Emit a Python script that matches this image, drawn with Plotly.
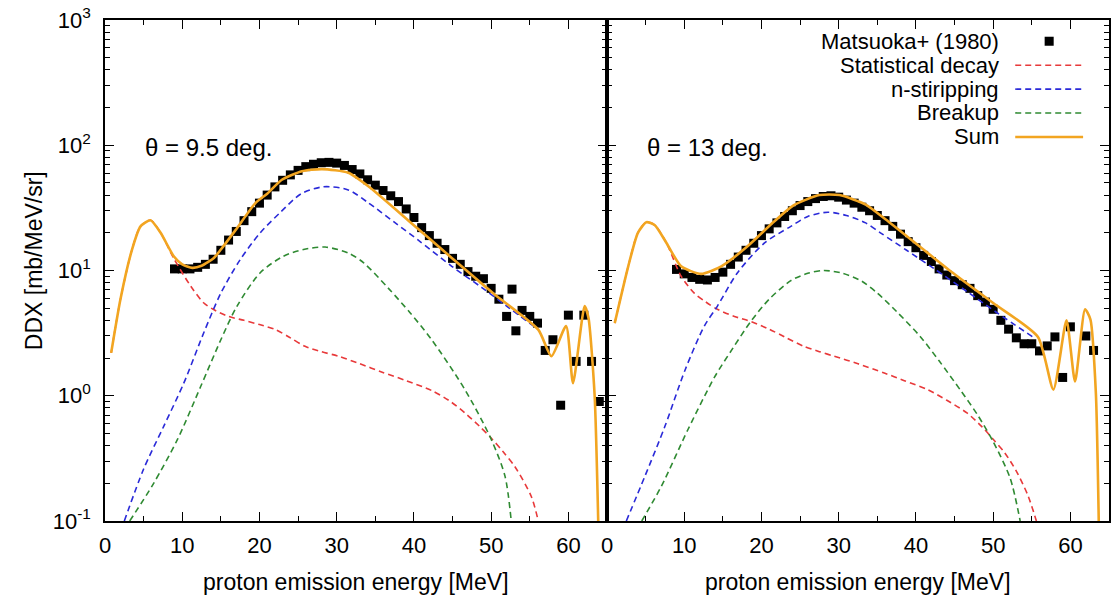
import plotly.graph_objects as go

# ---------------- theta = 9.5 deg ----------------
exp_e_95 = [9, 10, 11, 12, 13, 14, 15, 16, 17, 18, 19, 20, 21, 22, 23, 24, 25, 26, 27, 28,
            29, 30, 31, 32, 33, 34, 35, 36, 37, 38, 39, 40, 41, 42, 43, 44, 45, 46, 47, 48,
            49, 50, 51, 52, 52.7, 53.2, 54, 55, 56, 57, 58, 59, 60, 61, 62, 63, 64]
exp_v_95 = [10.3, 10.3, 10.3, 10.6, 11.2, 12.3, 14.5, 17.5, 20.5, 25, 29.5, 34.5, 40, 46.5, 52.5, 58, 63, 67.5, 70.5, 72.5,
            73, 72, 69, 64, 59, 53, 48, 43.5, 39.5, 35.5, 31, 26.5, 22, 19, 16.5, 14.7, 12.5, 11.2, 9.8, 9.0,
            8.6, 7.2, 5.9, 4.3, 7.1, 3.3, 4.8, 4.3, 3.8, 2.3, 2.8, 0.84, 4.4, 1.88, 4.4, 1.88, 0.9]

sum_e_95 = [0.8, 2, 3.5, 4.6, 5.9, 7.2, 8.9, 10, 11.3, 12.5, 14.1, 15, 16.9, 19.5, 21, 22.9, 25.5,
            28.1, 31.5, 34.1, 39.3, 44.9, 50.5, 56.1, 57.8, 59.7, 60.6, 62.1, 62.6, 63.4, 63.9]
sum_v_95 = [2.2, 5.9, 14.7, 22.5, 25.2, 20, 13, 11.2, 10.5, 10.9, 12.6, 14.7, 21, 34.7, 41, 53, 62,
            64.5, 60.3, 47, 25, 12.6, 6.4, 3.37, 2.07, 3.6, 1.26, 5.2, 4.2, 1.0, 0.08]

stat_e_95 = [0.8, 2, 3.5, 4.6, 5.9, 7.2, 8.9, 11.1, 12.8, 14, 16, 18, 20, 22.1, 24, 25.9, 28, 30.2,
             33, 35.8, 39, 42.3, 44.5, 46.6, 48.5, 50, 51.5, 53.1, 55.2, 56.1]
stat_v_95 = [2.2, 5.9, 14.7, 22.5, 25.2, 20, 12.5, 7.5, 5.5, 4.9, 4.3, 4.0, 3.7, 3.37, 2.9, 2.48, 2.25, 2.07,
             1.8, 1.55, 1.32, 1.1, 0.92, 0.73, 0.57, 0.46, 0.36, 0.27, 0.157, 0.1]

nstr_e_95 = [2.5, 5.0, 7.6, 10.2, 12.8, 15, 17.5, 20.1, 22.8, 25.4, 28.3, 31.5, 34.1, 37.5, 40.6, 44.9, 48.8, 52, 56.1]
nstr_v_95 = [0.1, 0.26, 0.57, 1.26, 3.2, 6.6, 12.2, 20, 29.5, 41, 46.6, 44, 34.7, 24.2, 17.4, 10.8, 7.3, 5.2, 3.37]

brk_e_95 = [3.2, 6.3, 9.4, 12.4, 15, 17.1, 20.1, 23.1, 25.7, 28.5, 31.5, 33.5, 36.7, 39.5, 42.3, 46.6, 50, 51.8, 52.6]
brk_v_95 = [0.1, 0.2, 0.45, 1.19, 2.8, 5.2, 9.6, 13, 14.7, 15.4, 13.8, 11.5, 7.2, 4.6, 2.8, 1.12, 0.45, 0.227, 0.1]

# ---------------- theta = 13 deg ----------------
exp_e_13 = [9, 10, 11, 12, 13, 14, 15, 16, 17, 18, 19, 20, 21, 22, 23, 24, 25, 26, 27, 28,
            29, 30, 31, 32, 33, 34, 35, 36, 37, 38, 39, 40, 41, 42, 43, 44, 45, 46, 47, 48,
            49, 50, 51, 52, 53, 54, 55, 56, 57, 58, 59, 60, 62, 63]
exp_v_13 = [10.2, 9.4, 8.8, 8.5, 8.4, 8.8, 9.7, 11.2, 12.8, 14.5, 16.5, 19, 21.5, 24, 27, 30, 33, 35.5, 37.5, 39,
            39.5, 38.5, 36.5, 34.5, 32, 30, 27.5, 25, 22.5, 19.5, 17, 15.2, 13.2, 11.8, 10.3, 9.2, 8.3, 7.7, 7.2, 6.3,
            5.6, 4.9, 4.0, 3.4, 2.9, 2.6, 2.6, 2.28, 2.5, 2.95, 1.4, 3.55, 3.0, 2.3]

sum_e_13 = [1.0, 2.75, 4.0, 5.1, 6.2, 7.7, 9.6, 12.2, 14.8, 18.2, 21.6, 24.1, 27.5, 30.1, 33.5, 36.1,
            44.2, 50, 55.8, 57.8, 59.5, 60.6, 61.9, 62.6, 63.3, 63.7]
sum_v_13 = [3.8, 10.8, 20, 24.3, 23, 16.6, 10.8, 9.4, 10.8, 15.6, 24.5, 33, 40, 40, 33.6, 25.5,
            10.2, 5.5, 2.95, 1.12, 4.0, 1.3, 4.9, 4.06, 1.05, 0.08]

stat_e_13 = [1.0, 2.75, 4.0, 5.1, 6.2, 7.7, 9.6, 11.3, 12.8, 14.3, 16.5, 18.7, 21, 23, 25.5, 27.5, 29.4,
             32.5, 35.9, 38.5, 41.5, 44, 46.6, 48.5, 50, 51.5, 53, 54.5, 55.6]
stat_v_13 = [3.8, 10.8, 20, 24.3, 23, 16.6, 9.0, 6.6, 5.6, 4.9, 4.3, 3.9, 3.4, 2.95, 2.48, 2.25, 2.07,
             1.8, 1.52, 1.32, 1.12, 0.92, 0.73, 0.57, 0.45, 0.35, 0.25, 0.16, 0.1]

nstr_e_13 = [2.5, 4.9, 7.5, 10.1, 12.6, 14.3, 16.9, 20.4, 23.8, 26, 28.6, 31, 33.5, 35.4, 38.8, 42.3, 46.6, 50.5, 55.3]
nstr_v_13 = [0.1, 0.227, 0.57, 1.6, 3.6, 5.2, 9.6, 16.6, 22.5, 27, 29.2, 27.5, 24, 20, 14.5, 10.4, 6.8, 4.6, 2.9]

brk_e_13 = [4.5, 7.05, 10.5, 13.9, 16.3, 18.6, 21, 23.8, 26, 28.1, 30.5, 33, 35, 37.5, 40.6, 43, 45.8, 48, 50, 52.2, 53.5]
brk_v_13 = [0.1, 0.19, 0.54, 1.4, 2.4, 3.9, 5.9, 8.3, 9.5, 10, 9.5, 8.2, 6.6, 4.7, 2.95, 1.9, 1.1, 0.7, 0.43, 0.22, 0.1]

angle_labels = ["\u03b8 = 9.5 deg.", "\u03b8 = 13 deg."]
legend_labels = ["Matsuoka+ (1980)", "Statistical decay", "n-stiripping", "Breakup", "Sum"]
y_tickvals = [0.1, 1, 10, 100, 1000]
y_ticktext = ["10<sup>-1</sup>", "10<sup>0</sup>", "10<sup>1</sup>", "10<sup>2</sup>", "10<sup>3</sup>"]
x_tickvals = [0, 10, 20, 30, 40, 50, 60]

RED = "#e8393a"
BLUE = "#2a2ad8"
GREEN = "#2f8a32"
ORANGE = "#f2a521"
FONT = "Liberation Sans, Arial, sans-serif"
DASH = "6px,4px"

panels = [
    (exp_e_95, exp_v_95, sum_e_95, sum_v_95, stat_e_95, stat_v_95, nstr_e_95, nstr_v_95, brk_e_95, brk_v_95),
    (exp_e_13, exp_v_13, sum_e_13, sum_v_13, stat_e_13, stat_v_13, nstr_e_13, nstr_v_13, brk_e_13, brk_v_13),
]

fig = go.Figure()
for i, (ee, ev, se, sv, te, tv, ne, nv, be, bv) in enumerate(panels):
    xa = "x" if i == 0 else "x2"
    ya = "y" if i == 0 else "y2"
    fig.add_trace(go.Scatter(x=ee, y=ev, mode="markers", xaxis=xa, yaxis=ya, showlegend=False,
                             marker=dict(symbol="square", size=9, color="black")))
    for xs, ys, col in [(te, tv, RED), (ne, nv, BLUE), (be, bv, GREEN)]:
        fig.add_trace(go.Scatter(x=xs, y=ys, mode="lines", xaxis=xa, yaxis=ya, showlegend=False,
                                 line=dict(color=col, width=1.6, dash=DASH, shape="spline", smoothing=0.8)))
    fig.add_trace(go.Scatter(x=se, y=sv, mode="lines", xaxis=xa, yaxis=ya, showlegend=False,
                             line=dict(color=ORANGE, width=2.6, shape="spline", smoothing=0.6)))

axis_common = dict(showline=True, linecolor="black", linewidth=1.5, mirror="allticks",
                   ticks="inside", ticklen=9, tickwidth=1.2, tickcolor="black",
                   showgrid=False, zeroline=False,
                   tickfont=dict(family=FONT, size=22, color="black"))
xminor = dict(dtick=5, ticklen=5, tickwidth=1.2, tickcolor="black", ticks="inside", showgrid=False)
yminor = dict(dtick="D1", ticklen=5, tickwidth=1.2, tickcolor="black", ticks="inside", showgrid=False)

fig.update_layout(
    width=1113, height=604,
    margin=dict(l=105, r=2, t=20, b=83),
    paper_bgcolor="white", plot_bgcolor="white",
    xaxis=dict(domain=[0, 0.5], range=[0, 65], tickvals=x_tickvals, minor=xminor, anchor="y",
               ticklabelstandoff=4, **axis_common),
    xaxis2=dict(domain=[0.5, 1], range=[0, 65], tickvals=x_tickvals, minor=xminor, anchor="y2",
                ticklabelstandoff=4, **axis_common),
    yaxis=dict(type="log", range=[-1, 3], tickvals=y_tickvals, ticktext=y_ticktext, minor=yminor,
               anchor="x", ticklabelstandoff=8, **axis_common),
    yaxis2=dict(type="log", range=[-1, 3], tickvals=y_tickvals, showticklabels=False, minor=yminor,
                anchor="x2", **axis_common),
    showlegend=False,
)

annotations = []
# axis titles
for cx in (0.25, 0.75):
    annotations.append(dict(xref="paper", yref="paper", x=cx, y=-0.122, text="proton emission energy [MeV]",
                            showarrow=False, xanchor="center", yanchor="middle",
                            font=dict(family=FONT, size=23, color="black")))
annotations.append(dict(xref="paper", yref="paper", x=-0.07, y=0.52, text="DDX [mb/MeV/sr]",
                        textangle=-90, showarrow=False, xanchor="center", yanchor="middle",
                        font=dict(family=FONT, size=23, color="black")))
# angle labels
for px, txt in zip((0.038, 0.538), angle_labels):
    annotations.append(dict(xref="paper", yref="paper", x=px, y=0.745, text=txt, showarrow=False,
                            xanchor="left", yanchor="middle", font=dict(family=FONT, size=24, color="black")))

# legend (text right-aligned, sample to the right); rows are 24 px apart
leg_rows = [0.9576, 0.9097, 0.8620, 0.8145, 0.7666]
leg_x_text = 0.8917
leg_x0, leg_x1 = 0.9066, 0.9742
shapes = []
for row, lab in zip(leg_rows, legend_labels):
    annotations.append(dict(xref="paper", yref="paper", x=leg_x_text, y=row, text=lab, showarrow=False,
                            xanchor="right", yanchor="middle", borderpad=0,
                            font=dict(family=FONT, size=22, color="black")))
mid = (leg_x0 + leg_x1) / 2
shapes.append(dict(type="rect", xref="paper", yref="paper", x0=mid - 0.0045, x1=mid + 0.0045,
                   y0=leg_rows[0] - 0.009, y1=leg_rows[0] + 0.009, fillcolor="black", line=dict(width=0)))
for row, col in zip(leg_rows[1:4], (RED, BLUE, GREEN)):
    shapes.append(dict(type="line", xref="paper", yref="paper", x0=leg_x0, x1=leg_x1, y0=row, y1=row,
                       line=dict(color=col, width=1.6, dash=DASH)))
shapes.append(dict(type="line", xref="paper", yref="paper", x0=leg_x0, x1=leg_x1, y0=leg_rows[4], y1=leg_rows[4],
                   line=dict(color=ORANGE, width=2.6)))

fig.update_layout(annotations=annotations, shapes=shapes)
fig.write_html("out.html")
